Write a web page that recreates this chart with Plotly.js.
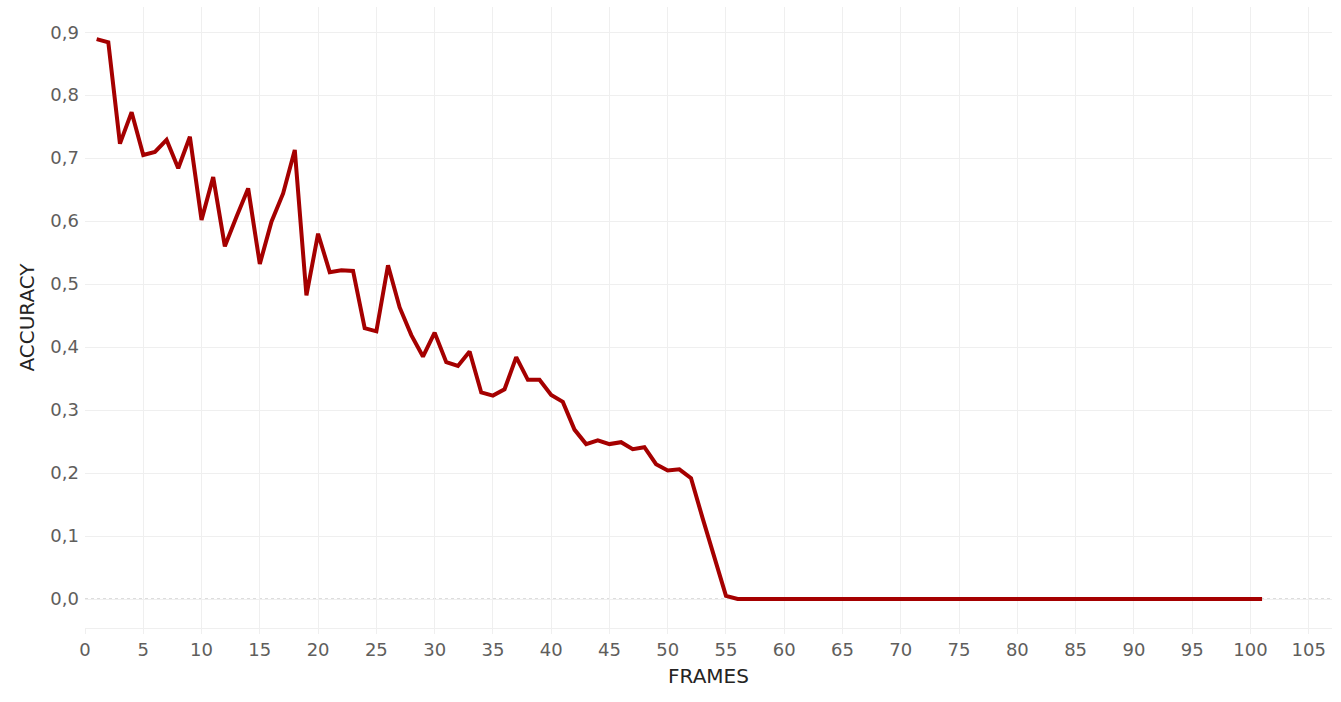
<!DOCTYPE html>
<html>
<head>
<meta charset="utf-8">
<script src="https://cdn.plot.ly/plotly-3.0.1.min.js"></script>
<style>html,body{margin:0;padding:0;background:#fff;}#chart{width:1341px;height:702px;}</style>
</head>
<body>
<div id="chart"></div>
<script>
var frames = [];
for (var i = 1; i <= 101; i++) frames.push(i);

var accuracyHead = [
  0.889, 0.884, 0.723, 0.773, 0.705, 0.710, 0.729, 0.684, 0.734, 0.602,
  0.670, 0.560, 0.607, 0.652, 0.532, 0.599, 0.644, 0.713, 0.482, 0.580,
  0.519, 0.522, 0.521, 0.430, 0.425, 0.530, 0.463, 0.419, 0.385, 0.423,
  0.376, 0.370, 0.393, 0.328, 0.323, 0.333, 0.384, 0.348, 0.348, 0.324,
  0.313, 0.269, 0.246, 0.252, 0.246, 0.249, 0.238, 0.241, 0.214, 0.204,
  0.206, 0.192, 0.128, 0.065, 0.005
];
var accuracyTail = [];
for (var j = 56; j <= 101; j++) accuracyTail.push(0);
var accuracy = accuracyHead.concat(accuracyTail);

var xTicks = [0,5,10,15,20,25,30,35,40,45,50,55,60,65,70,75,80,85,90,95,100,105];
var yTicks = [0,0.1,0.2,0.3,0.4,0.5,0.6,0.7,0.8,0.9];

var tickFont = {family: 'DejaVu Sans, sans-serif', size: 18, color: '#605e5c'};
var titleFont = {family: 'DejaVu Sans, sans-serif', size: 20, color: '#252423'};

var trace = {
  x: frames,
  y: accuracy,
  type: 'scatter',
  mode: 'lines',
  line: {color: '#a50000', width: 4},
  hoverinfo: 'x+y'
};

var layout = {
  width: 1341,
  height: 702,
  margin: {l: 85, r: 9, t: 7, b: 74},
  paper_bgcolor: '#ffffff',
  plot_bgcolor: '#ffffff',
  separators: ', ',
  showlegend: false,
  xaxis: {
    range: [0, 107],
    tickmode: 'array',
    tickvals: xTicks,
    tickfont: tickFont,
    showgrid: true,
    gridcolor: '#efefef',
    gridwidth: 1,
    zeroline: false,
    showline: true,
    linecolor: '#efefef',
    ticks: 'outside',
    ticklen: 5,
    tickcolor: '#efefef',
    title: {text: 'FRAMES', font: titleFont, standoff: 10}
  },
  yaxis: {
    range: [-0.046, 0.94],
    tickmode: 'array',
    tickvals: yTicks,
    tickformat: '.1f',
    tickfont: tickFont,
    ticklabelstandoff: 5,
    showgrid: true,
    gridcolor: '#efefef',
    gridwidth: 1,
    zeroline: false,
    ticks: '',
    title: {text: 'ACCURACY', font: titleFont, standoff: 10}
  },
  shapes: [{
    type: 'line', xref: 'paper', yref: 'y',
    x0: 0, x1: 1, y0: 0, y1: 0,
    line: {color: '#b8b8b8', width: 1, dash: 'dot'},
    layer: 'below'
  }]
};

Plotly.newPlot('chart', [trace], layout, {displayModeBar: false, staticPlot: true});
</script>
</body>
</html>
